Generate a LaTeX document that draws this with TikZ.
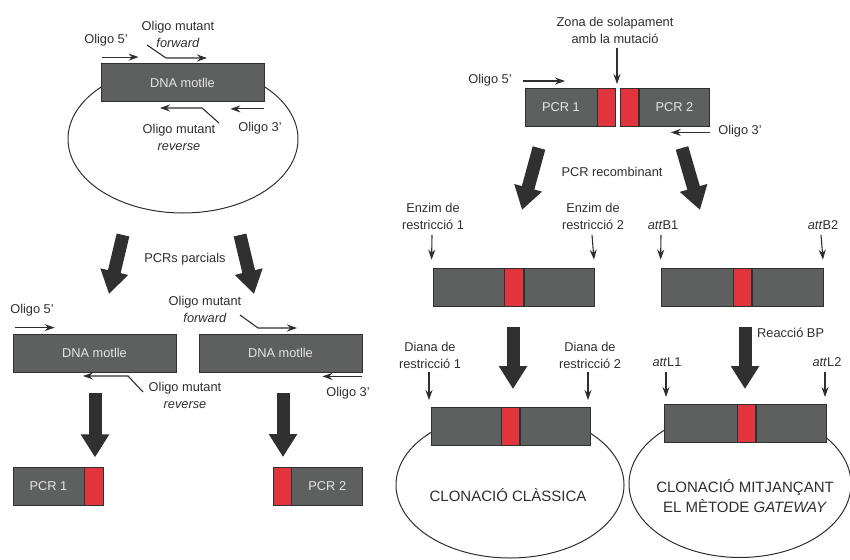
\documentclass[tikz,border=0pt]{standalone}
\usepackage{fontspec}
\setmainfont{Liberation Sans}
\usetikzlibrary{arrows.meta}
\usetikzlibrary{positioning}
\definecolor{boxgray}{HTML}{5E5F5F}
\definecolor{mutred}{HTML}{E2343D}
\definecolor{txt}{HTML}{2E2E2E}
\definecolor{arr}{HTML}{303030}
\newcommand{\labfont}{\fontsize{12.8}{17}\selectfont}
\newcommand{\bigfont}{\fontsize{15}{20}\selectfont}
\tikzset{
  dna/.style={draw=arr, fill=boxgray, line width=0.8pt, minimum height=38pt, inner sep=0pt,
    text=white!90!black, font=\labfont},
  mut/.style={dna, fill=mutred, minimum width=18pt},
  lab/.style={text=txt, font=\labfont, align=center, inner sep=1pt},
  oligo/.style={-{Stealth[length=10pt,width=7pt]}, line width=1.1pt, draw=txt},
  bigarrow/.style={line width=13pt, draw=arr, -{Triangle[length=23pt,width=27pt]}},
  plasmid/.style={line width=1pt, draw=txt}
}

\begin{document}
\begin{tikzpicture}[x=1pt, y=-1pt]
\useasboundingbox (0,0) rectangle (850,559);

% --- plasmid amb el DNA motlle
\draw[plasmid] (183,139) ellipse (115 and 74);
\node[dna, minimum width=163pt] (motA) at (182.5,82.5) {DNA motlle};
\node[lab] (o5A) at (106,40) {Oligo 5'};
\draw[oligo] ([xshift=1pt,yshift=6pt]motA.north west) -- ++(37,0);
\node[lab] (fwA) at (178,34) {Oligo mutant\\\textit{forward}};
\coordinate (fwAe) at (207,58);
\draw[oligo] (147,45) -- (166,58) -- (fwAe);
\node[lab] (rvA) at (179,137) {Oligo mutant\\\textit{reverse}};
\draw[oligo] (219,123) -- (202,108) -- (160,108);
\node[lab] (o3A) at (260,128) {Oligo 3'};
\draw[oligo] ([yshift=-7pt]motA.south east) -- ++(-34,0);

% --- PCRs parcials
\coordinate (pA1) at (123,235);
\coordinate (pA2) at (109,294);
\coordinate (pB1) at (240,235);
\coordinate (pB2) at (254,294);
\draw[bigarrow] (pA1) -- (pA2);
\draw[bigarrow] (pB1) -- (pB2);
\node[lab] (parc) at (185,259) {PCRs parcials};

\node[dna, minimum width=163pt] (motB) at (94.5,353) {DNA motlle};
\node[dna, minimum width=163pt] (motC) at (280.5,353) {DNA motlle};
\node[lab] (o5B) at (32,310) {Oligo 5'};
\draw[oligo] ([xshift=2pt,yshift=6pt]motB.north west) -- ++(40,0);
\node[lab] (rvB) at (185,395) {Oligo mutant\\\textit{reverse}};
\draw[oligo] (143,392) -- (128,376) -- (83,376);
\node[lab] (fwC) at (205,309) {Oligo mutant\\\textit{forward}};
\draw[oligo] (240,315) -- (258,328) -- (297,328);
\node[lab] (o3C) at (348,393) {Oligo 3'};
\draw[oligo] ([yshift=-4pt]motC.south east) -- ++(-40,0);

\draw[bigarrow] ([yshift=-21pt]motB.south) ++(0.5,0) coordinate (dA) -- ++(0,64);
\draw[bigarrow] (283,393) -- (283,457);

\node[dna, minimum width=71pt] (pcrA) at (48.5,486.5) {PCR 1};
\node[mut, minimum width=19pt, anchor=west] (redA) at (pcrA.east) {};
\node[mut, minimum width=18pt] (redB) at (282,486.5) {};
\node[dna, minimum width=71pt, anchor=west] (pcrB) at (redB.east) {PCR 2};

% --- PCR recombinant
\node[lab] (zona) at (615,30) {Zona de solapament\\amb la mutaci\'o};
\node[dna, minimum width=72pt] (recA) at (561,107) {PCR 1};
\node[mut, anchor=west] (recR1) at (recA.east) {};
\node[mut, anchor=west, xshift=4pt] (recR2) at (recR1.east) {};
\node[dna, minimum width=70pt, anchor=west] (recB) at (recR2.east) {PCR 2};
\draw[oligo] (zona.south -| 617,0) ++(0,4) -- (617,84);
\node[lab] (o5R) at (490,80) {Oligo 5'};
\draw[oligo] (o5R.east) ++(10,1) -- (565,81);
\node[lab] (o3R) at (740,131) {Oligo 3'};
\draw[oligo] ([yshift=-6pt]recB.south east) -- ++(-39,0);

\draw[bigarrow] (539,148) -- (522,210);
\draw[bigarrow] (682,148) -- (700,210);
\node[lab] (recomb) at (612,172) {PCR recombinant};

% --- enzims de restriccio
\node[lab] (enz1) at (433,216) {Enzim de\\restricci\'o 1};
\node[lab] (enz2) at (593,216) {Enzim de\\restricci\'o 2};
\node[dna, minimum width=71pt] (cA1) at (468.5,287) {};
\node[mut, minimum width=19pt, anchor=west] (cAr) at (cA1.east) {};
\node[dna, minimum width=70pt, anchor=west] (cA2) at (cAr.east) {};
\draw[oligo] (432,235) -- ([xshift=-1pt,yshift=8pt]cA1.north west);
\draw[oligo] (592,235) -- ([xshift=-1pt,yshift=8pt]cA2.north east);

% --- llocs att
\node[lab] (attB1) at (663,225) {\textit{att}B1};
\node[lab] (attB2) at (823,225) {\textit{att}B2};
\node[dna, minimum width=72pt] (gA1) at (697,287) {};
\node[mut, anchor=west] (gAr) at (gA1.east) {};
\node[dna, minimum width=71pt, anchor=west] (gA2) at (gAr.east) {};
\draw[oligo] (661,235) -- ([yshift=8pt]gA1.north west);
\draw[oligo] (821,235) -- ([xshift=-1pt,yshift=8pt]gA2.north east);

\draw[bigarrow] (513,327) -- (513,389);
\draw[bigarrow] (745,327) -- (745,389);
\node[lab, anchor=west] (bp) at (756,333) {Reacci\'o BP};

% --- clonacio classica
\draw[plasmid] (510,485) ellipse (114 and 73);
\node[dna, minimum width=70pt] (cB1) at (466,426) {};
\node[mut, anchor=west] (cBr) at (cB1.east) {};
\node[dna, minimum width=70pt, anchor=west] (cB2) at (cBr.east) {};
\node[lab] (dia1) at (430,355) {Diana de\\restricci\'o 1};
\node[lab] (dia2) at (590,355) {Diana de\\restricci\'o 2};
\draw[oligo] (429,372) -- (429,400);
\draw[oligo] (588,372) -- (588,400);
\node[lab, font=\bigfont] (cl1) at (508,495) {CLONACI\'O CL\`ASSICA};

% --- clonacio gateway
\draw[plasmid] (740,484) ellipse (111 and 73.5);
\node[dna, minimum width=73pt] (gB1) at (700.5,423) {};
\node[mut, anchor=west] (gBr) at (gB1.east) {};
\node[dna, minimum width=70pt, anchor=west] (gB2) at (gBr.east) {};
\node[lab] (attL1) at (667,362) {\textit{att}L1};
\node[lab] (attL2) at (827,362) {\textit{att}L2};
\draw[oligo] (666,372) -- (666,397);
\draw[oligo] (825,372) -- (825,397);
\node[lab, font=\bigfont] (cl2) at (745,496) {CLONACI\'O MITJAN\c{C}ANT\\EL M\`ETODE \textit{GATEWAY}};
\end{tikzpicture}
\end{document}
